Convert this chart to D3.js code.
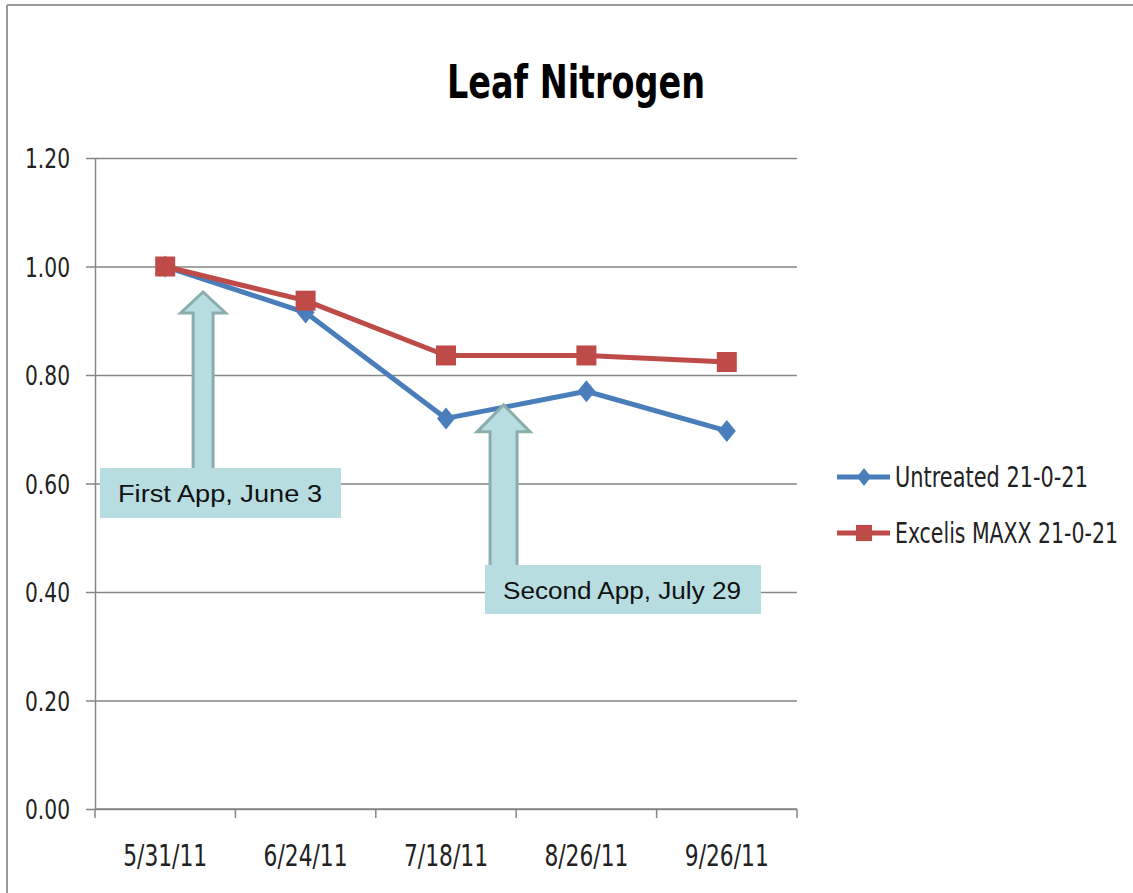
<!DOCTYPE html>
<html lang="en">
<head>
    <meta charset="UTF-8">
    <title>Leaf Nitrogen</title>
    <script src="https://d3js.org/d3.v7.min.js"></script>
    <style>
        * { margin: 0; padding: 0; box-sizing: border-box; }
        body { background: #fff; width: 1133px; height: 893px; overflow: hidden; }
        .axis-label { font-family: "DejaVu Sans Condensed", "Liberation Sans Narrow", Arial, sans-serif; fill: #222; }
        .note { font-family: "Liberation Sans", Arial, sans-serif; fill: #111; }
    </style>
</head>
<body>
    <svg id="chart" width="1133" height="893"></svg>

    <script>
        // data
        const dates = ["5/31/11", "6/24/11", "7/18/11", "8/26/11", "9/26/11"];
        const untreated = [1.00, 0.915, 0.72, 0.77, 0.697];
        const excelis = [1.00, 0.937, 0.836, 0.836, 0.824];
        const seriesNames = ["Untreated 21-0-21", "Excelis MAXX 21-0-21"];
        const yTicks = [0, 0.2, 0.4, 0.6, 0.8, 1.0, 1.2];

        // annotations: position along category axis (index), tip value, text
        const notes = [
            { at: 0.27, tip: 0.953, label: "First App, June 3" },
            { at: 2.41, tip: 0.745, label: "Second App, July 29" }
        ];

        const blue = "#4a7ebb", red = "#be4b48";
        const svg = d3.select("#chart");

        const plotL = 95, plotR = 797, plotT = 158, plotB = 809;

        const x = d3.scalePoint().domain(dates).range([plotL, plotR]).padding(0.5);
        const y = d3.scaleLinear().domain([0, 1.2]).range([plotB, plotT]);
        const step = x.step();
        const xAt = i => x(dates[0]) + i * step;

        // outer chart border (top & left only visible)
        svg.append("line").attr("x1", 7).attr("x2", 1133).attr("y1", 5).attr("y2", 5)
            .attr("stroke", "#9a9a9a").attr("stroke-width", 2);
        svg.append("line").attr("x1", 7).attr("x2", 7).attr("y1", 5).attr("y2", 893)
            .attr("stroke", "#9a9a9a").attr("stroke-width", 2);

        // title
        svg.append("text").attr("x", 576).attr("y", 98).attr("text-anchor", "middle")
            .attr("class", "axis-label")
            .style("font-size", "47px").style("font-weight", "bold").style("fill", "#000")
            .attr("textLength", 258).attr("lengthAdjust", "spacingAndGlyphs")
            .text("Leaf Nitrogen");

        // gridlines + y axis
        const yAxis = d3.axisLeft(y).tickValues(yTicks).tickFormat(d3.format(".2f"))
            .tickSize(-(plotR - plotL)).tickSizeOuter(0).tickPadding(25);
        const gy = svg.append("g").attr("transform", `translate(${plotL},0)`).call(yAxis);
        gy.select(".domain").attr("stroke", "#868686").attr("stroke-width", 1.5);
        gy.selectAll(".tick line").attr("stroke", "#868686").attr("stroke-width", 1.5).attr("x1", -9);
        gy.selectAll(".tick text").attr("class", "axis-label").style("font-size", "27px")
            .attr("dy", "0.36em")
            .attr("textLength", 45).attr("lengthAdjust", "spacingAndGlyphs");

        // x axis
        const tickPos = d3.range(dates.length + 1).map(i => plotL + i * step);
        svg.append("line").attr("x1", plotL).attr("x2", plotR).attr("y1", plotB).attr("y2", plotB)
            .attr("stroke", "#868686").attr("stroke-width", 1.5);
        svg.selectAll(".xtick").data(tickPos).join("line").attr("class", "xtick")
            .attr("x1", d => d).attr("x2", d => d).attr("y1", plotB).attr("y2", plotB + 9)
            .attr("stroke", "#868686").attr("stroke-width", 1.5);
        svg.selectAll(".xlab").data(dates).join("text").attr("class", "xlab axis-label")
            .attr("x", d => x(d)).attr("y", 866).attr("text-anchor", "middle")
            .style("font-size", "31px")
            .attr("textLength", 84).attr("lengthAdjust", "spacingAndGlyphs")
            .text(d => d);

        // lines
        const line = d3.line().x((d, i) => x(dates[i])).y(d => y(d));
        svg.append("path").datum(untreated).attr("d", line).attr("fill", "none")
            .attr("stroke", blue).attr("stroke-width", 5).attr("stroke-linejoin", "round");
        svg.append("path").datum(excelis).attr("d", line).attr("fill", "none")
            .attr("stroke", red).attr("stroke-width", 5).attr("stroke-linejoin", "round");

        // diamond slightly taller than wide, as in the picture
        const diamondPath = (w, h) => `M0,${-h / 2}L${w / 2},0L0,${h / 2}L${-w / 2},0Z`;
        const square = d3.symbol().type(d3.symbolSquare).size(400);

        svg.selectAll(".dot-u").data(untreated).join("path").attr("class", "dot-u")
            .attr("d", diamondPath(18, 22)).attr("fill", blue)
            .attr("transform", (d, i) => `translate(${x(dates[i])},${y(d)})`);
        svg.selectAll(".dot-e").data(excelis).join("path").attr("class", "dot-e")
            .attr("d", square).attr("fill", red)
            .attr("transform", (d, i) => `translate(${x(dates[i])},${y(d)})`);

        // annotation arrows + boxes
        notes.forEach((n, k) => {
            const cx = xAt(n.at);
            const tipY = y(n.tip);
            const shaftW = k === 0 ? 20 : 27;
            const headW = k === 0 ? 45 : 53;
            const headH = k === 0 ? 21 : 27;
            const baseY = k === 0 ? 470 : 567;
            const pts = [
                [cx, tipY], [cx + headW / 2, tipY + headH], [cx + shaftW / 2, tipY + headH],
                [cx + shaftW / 2, baseY], [cx - shaftW / 2, baseY], [cx - shaftW / 2, tipY + headH],
                [cx - headW / 2, tipY + headH]
            ];
            svg.append("polygon").attr("points", pts.map(p => p.join(",")).join(" "))
                .attr("fill", "#b7dde0").attr("stroke", "#8aaeae").attr("stroke-width", 3);

            const bx = k === 0 ? 100 : 485, by = k === 0 ? 468 : 565;
            const bw = k === 0 ? 241 : 276, bh = k === 0 ? 50 : 49;
            svg.append("rect").attr("x", bx).attr("y", by).attr("width", bw).attr("height", bh)
                .attr("fill", "#b7dde0");
            svg.append("text").attr("class", "note").attr("x", bx + 18).attr("y", by + 34)
                .style("font-size", "23px")
                .attr("textLength", k === 0 ? 204 : 238).attr("lengthAdjust", "spacingAndGlyphs")
                .text(n.label);
        });

        // legend
        const legendW = [193, 223];
        const legend = svg.selectAll(".leg").data(seriesNames).join("g").attr("class", "leg")
            .attr("transform", (d, i) => `translate(837,${477 + i * 56})`);
        legend.append("line").attr("x1", 0).attr("x2", 53).attr("y1", 0).attr("y2", 0)
            .attr("stroke", (d, i) => i === 0 ? blue : red).attr("stroke-width", 5);
        legend.append("path")
            .attr("d", (d, i) => i === 0 ? diamondPath(14, 18) : d3.symbol().type(d3.symbolSquare).size(260)())
            .attr("fill", (d, i) => i === 0 ? blue : red)
            .attr("transform", "translate(27,0)");
        // squeeze the text horizontally so it stays inside the page
        legend.append("g").attr("transform", "translate(58,10)")
            .append("text").attr("class", "axis-label")
            .style("font-size", "29px")
            .text(d => d)
            .each(function (d, i) {
                const w = this.getComputedTextLength();
                d3.select(this).attr("transform", `scale(${legendW[i] / w},1)`);
            });
    </script>
</body>
</html>
